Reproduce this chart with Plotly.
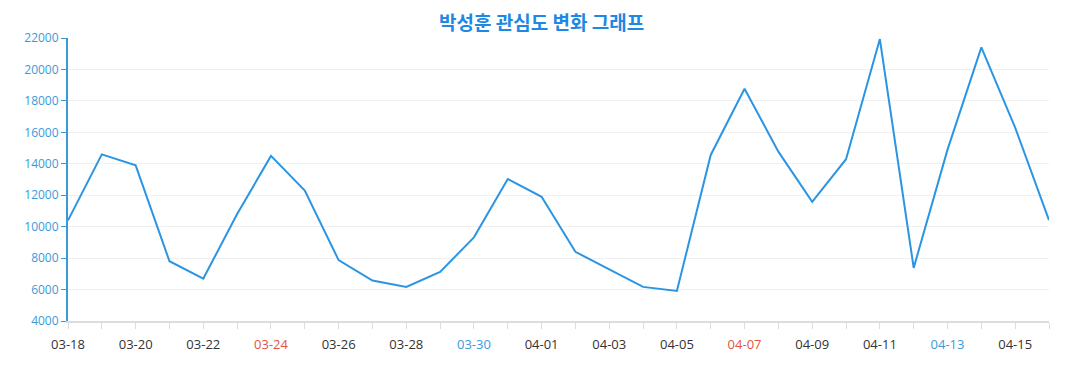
import plotly.graph_objects as go

dates = ["03-18","03-19","03-20","03-21","03-22","03-23","03-24","03-25","03-26","03-27",
         "03-28","03-29","03-30","03-31","04-01","04-02","04-03","04-04","04-05","04-06",
         "04-07","04-08","04-09","04-10","04-11","04-12","04-13","04-14","04-15","04-16"]
values = [10400, 14600, 13900, 7800, 6700, 10800, 14500, 12300, 7870, 6570,
          6170, 7120, 9320, 13030, 11900, 8400, 7290, 6170, 5910, 14560,
          18770, 14770, 11580, 14290, 21930, 7380, 14900, 21400, 16300, 10420]
title_text = "박성훈 관심도 변화 그래프"
red_days = ["03-24", "04-07"]
blue_days = ["03-30", "04-13"]
y_ticks = [4000, 6000, 8000, 10000, 12000, 14000, 16000, 18000, 20000, 22000]

ticktext = []
for i, d in enumerate(dates):
    if i % 2 == 1:
        ticktext.append("")
    elif d in red_days:
        ticktext.append(f'<span style="color:#e0553d">{d}</span>')
    elif d in blue_days:
        ticktext.append(f'<span style="color:#3a9ad9">{d}</span>')
    else:
        ticktext.append(d)

fig = go.Figure()
fig.add_trace(go.Scatter(
    x=list(range(len(dates))), y=values, mode="lines",
    line=dict(color="#2b95e3", width=2),
    hoverinfo="x+y",
))

fig.update_layout(
    width=1061, height=374,
    margin=dict(l=60, r=20, t=30, b=61),
    paper_bgcolor="white", plot_bgcolor="white",
    showlegend=False,
    font=dict(family="Open Sans, Noto Sans, sans-serif"),
    title=dict(
        text=f"<b>{title_text}</b>", x=0.503, xanchor="center", y=0.958, yanchor="middle",
        font=dict(family="Noto Sans CJK KR, sans-serif", size=19, color="#1e88e5"),
    ),
    xaxis=dict(
        range=[0, len(dates) - 1],
        tickmode="array", tickvals=list(range(len(dates))), ticktext=ticktext,
        showgrid=False, zeroline=False,
        showline=True, linecolor="#dcdcdc", linewidth=2,
        ticks="outside", ticklen=6, tickcolor="#dcdcdc", tickwidth=1,
        tickfont=dict(size=13, color="#333333"),
        ticklabelstandoff=4,
    ),
    yaxis=dict(
        range=[4000, 22000], tickmode="array", tickvals=y_ticks, tickformat="d",
        showgrid=True, gridcolor="#f0f0f0", gridwidth=1, zeroline=False,
        showline=True, linecolor="#3a9ad9", linewidth=2,
        ticks="outside", ticklen=5, tickcolor="#3a9ad9", tickwidth=1,
        tickfont=dict(size=12, color="#3a9ad9"),
    ),
)

fig.write_html("out.html")
